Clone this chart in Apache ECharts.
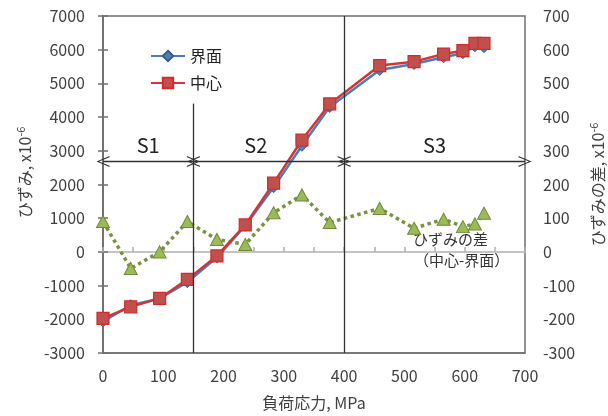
<!DOCTYPE html>
<html>
<head>
<meta charset="utf-8">
<script src="https://cdn.jsdelivr.net/npm/echarts@6/dist/echarts.min.js"></script>
<style>html,body{margin:0;padding:0;background:#fff}#c{width:608px;height:416px}</style>
</head>
<body>
<div id="c"></div>
<script>
// ---- data ----
const stress = [0, 46, 94, 140, 189, 236, 283, 330, 376, 459, 516, 565, 597, 617, 632];
const interfaceStrain = [-2060, -1580, -1380, -900, -160, 775, 1920, 3150, 4300, 5400, 5575, 5775, 5895, 6105, 6075];
const centerStrain = [-1970, -1630, -1380, -815, -120, 800, 2040, 3320, 4390, 5530, 5645, 5870, 5970, 6190, 6190];
const strainDiff = [90, -49, 0, 90, 37, 22, 116, 169, 87, 129, 70, 97, 75, 83, 115];
const stageNames = ['S1', 'S2', 'S3'];
const stageBounds = [0, 150, 400, 700];
const stageArrowY = 2680;
const leftTicks = { min: -3000, max: 7000, step: 1000 };
const rightTicks = { min: -300, max: 700, step: 100 };
const xTicks = { min: 0, max: 700, step: 100 };

const font = '"Noto Sans CJK JP", "Noto Sans", sans-serif';
const txt = '#404040';
const axisCol = '#707070';
const chevron = 'path://M0,12 L5,0 L10,12 L8.9,12 L5,2.4 L1.1,12 Z';
const plain = v => String(v);

const pair = (a, b) => a.map((v, i) => [v, b[i]]);

const stageLines = stageNames.map((n, i) => [
  { coord: [stageBounds[i], stageArrowY], symbol: chevron, symbolSize: [11, 13],
    label: { show: true, formatter: n, position: 'insideMiddleTop', distance: 6,
      fontSize: 20, color: '#222', fontFamily: font, offset: [i === 1 ? -13 : 0, 0] } },
  { coord: [stageBounds[i + 1], stageArrowY], symbol: chevron, symbolSize: [11, 13] }
]);

const chart = echarts.init(document.getElementById('c'), null, { renderer: 'canvas' });
chart.setOption({
  animation: false,
  grid: { left: 103, right: 83, top: 16, bottom: 63, show: true, borderColor: axisCol, borderWidth: 1.5,
    containLabel: false, outerBoundsMode: 'none' },
  legend: {
    data: ['界面', '中心'], orient: 'vertical', left: 145, top: 43,
    itemWidth: 34, itemHeight: 13, itemGap: 11,
    textStyle: { fontSize: 16, color: '#222', fontFamily: font }
  },
  xAxis: [{
    type: 'value', min: xTicks.min, max: xTicks.max, interval: xTicks.step,
    name: '負荷応力, MPa', nameLocation: 'middle', nameGap: 42,
    nameTextStyle: { fontSize: 16, color: txt, fontFamily: font },
    axisLine: { onZero: false, lineStyle: { color: axisCol, width: 1.5 } },
    axisTick: { show: false },
    axisLabel: { fontSize: 16, color: txt, fontFamily: font, margin: 15, formatter: plain },
    splitLine: { show: false }
  }, {
    type: 'value', min: xTicks.min, max: xTicks.max, interval: 50, position: 'bottom',
    axisLine: { onZero: true, onZeroAxisIndex: 0, lineStyle: { color: '#c4c4c4', width: 2 } },
    axisTick: { show: true, inside: true, length: 5, lineStyle: { color: '#b0b0b0', width: 1.5 } },
    axisLabel: { show: false }, splitLine: { show: false }
  }],
  yAxis: [{
    type: 'value', min: leftTicks.min, max: leftTicks.max, interval: leftTicks.step,
    name: 'ひずみ, x10{sup|-6}', nameLocation: 'middle', nameRotate: 90, nameGap: 65,
    nameTextStyle: { fontSize: 16, color: txt, fontFamily: font, padding: [0, 0, 0, 24],
      rich: { sup: { fontSize: 11, verticalAlign: 'top', padding: [0, 0, 9, 0], color: txt, fontFamily: font } } },
    axisLine: { show: true, lineStyle: { color: axisCol, width: 1.5 } },
    axisTick: { show: true, inside: false, length: 5, lineStyle: { color: axisCol, width: 1.5 } },
    axisLabel: { fontSize: 16, color: txt, fontFamily: font, margin: 18, formatter: plain },
    splitLine: { show: false }
  }, {
    type: 'value', min: rightTicks.min, max: rightTicks.max, interval: rightTicks.step, position: 'right',
    name: 'ひずみの差, x10{sup|-6}', nameLocation: 'middle', nameRotate: 90, nameGap: 63,
    nameTextStyle: { fontSize: 16, color: txt, fontFamily: font,
      rich: { sup: { fontSize: 11, verticalAlign: 'top', padding: [0, 0, 9, 0], color: txt, fontFamily: font } } },
    axisLine: { show: true, lineStyle: { color: axisCol, width: 1.5 } },
    axisTick: { show: true, inside: false, length: 5, lineStyle: { color: axisCol, width: 1.5 } },
    axisLabel: { fontSize: 16, color: txt, fontFamily: font, margin: 18, formatter: plain },
    splitLine: { show: false }
  }],
  series: [{
    name: 'ひずみの差', type: 'line', xAxisIndex: 0, yAxisIndex: 1, data: pair(stress, strainDiff),
    symbol: 'triangle', symbolSize: [13, 12],
    lineStyle: { color: '#77933c', width: 3.5, type: 'dotted' },
    itemStyle: { color: '#9bbb59', borderColor: '#6f8a3a', borderWidth: 1 }
  }, {
    name: '界面', type: 'line', xAxisIndex: 0, yAxisIndex: 0, data: pair(stress, interfaceStrain),
    symbol: 'diamond', symbolSize: 11,
    lineStyle: { color: '#4a7ebb', width: 2.5 },
    itemStyle: { color: '#4f81bd', borderColor: '#385d8a', borderWidth: 1 }
  }, {
    name: '中心', type: 'line', xAxisIndex: 0, yAxisIndex: 0, data: pair(stress, centerStrain),
    symbol: 'rect', symbolSize: 12,
    lineStyle: { color: '#d03636', width: 2.5 },
    itemStyle: { color: '#c0504d', borderColor: '#d42a2a', borderWidth: 1.2 },
    markLine: {
      silent: true, symbol: 'none', label: { show: false },
      lineStyle: { color: '#333', width: 1.3, type: 'solid' },
      emphasis: { disabled: true },
      data: [
        [{ coord: [stageBounds[1], 4400] }, { coord: [stageBounds[1], leftTicks.min] }],
        [{ coord: [stageBounds[2], leftTicks.max] }, { coord: [stageBounds[2], leftTicks.min] }]
      ].concat(stageLines)
    }
  }],
  graphic: [
    { type: 'text', left: 413, top: 232, style: { text: 'ひずみの差', fontSize: 15, fill: '#333', fontFamily: font } },
    { type: 'text', left: 414, top: 253, style: { text: '（中心-界面）', fontSize: 15, fill: '#333', fontFamily: font } }
  ]
});
</script>
</body>
</html>
